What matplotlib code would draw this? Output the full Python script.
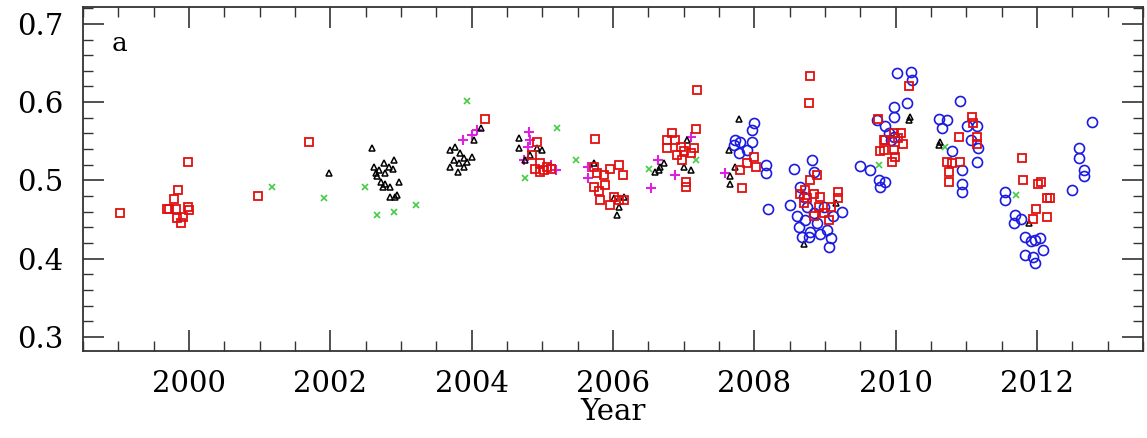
import matplotlib.pyplot as plt
from matplotlib.ticker import MultipleLocator

# ---------------------- DATA -------------------------------------------------

# red open squares
sq_x = [1999.03, 1999.69, 1999.71, 1999.84, 1999.79, 1999.99, 1999.98, 2000.00, 1999.83,
        1999.88, 1999.81, 1999.92, 2000.98, 2001.70, 2004.19,
        2004.93, 2004.96, 2004.90, 2005.02, 2005.07, 2005.12, 2004.97, 2004.86,
        2005.74, 2005.73, 2005.77, 2005.87, 2005.96, 2006.08, 2006.14, 2005.73, 2005.80,
        2005.89, 2005.82, 2005.96, 2006.08, 2006.15, 2006.01,
        2007.19, 2007.18, 2006.84, 2006.77, 2006.88, 2006.77, 2006.96, 2007.00, 2007.10,
        2006.91, 2007.03, 2007.03, 2007.14, 2006.98,
        2007.83, 2007.99, 2007.90, 2007.80, 2008.02,
        2008.79, 2008.78,
        2008.65, 2008.72, 2008.79, 2008.89, 2008.75, 2008.84, 2008.93, 2009.19, 2009.19,
        2009.08, 2008.98, 2008.84, 2009.05, 2008.70, 2008.91,
        2010.19, 2009.84, 2009.97, 2010.04, 2010.11, 2009.83, 2009.97, 2009.95, 2009.99,
        2009.75, 2009.78, 2009.85, 2010.07,
        2010.73, 2010.75, 2010.75, 2010.91, 2010.89, 2011.08, 2011.10, 2011.15, 2011.15, 2010.80,
        2011.79, 2011.80, 2012.02, 2012.05, 2012.14, 2012.19, 2011.98, 2011.95, 2012.14]
sq_y = [0.458, 0.463, 0.463, 0.488, 0.476, 0.523, 0.466, 0.462, 0.452,
        0.445, 0.463, 0.453, 0.480, 0.549, 0.578,
        0.549, 0.522, 0.515, 0.513, 0.517, 0.515, 0.511, 0.532,
        0.553, 0.517, 0.509, 0.507, 0.515, 0.520, 0.507, 0.492, 0.486,
        0.494, 0.475, 0.468, 0.475, 0.475, 0.479,
        0.615, 0.566, 0.560, 0.552, 0.552, 0.541, 0.543, 0.537, 0.535,
        0.532, 0.498, 0.492, 0.541, 0.526,
        0.490, 0.530, 0.522, 0.513, 0.517,
        0.633, 0.599,
        0.483, 0.488, 0.500, 0.507, 0.477, 0.483, 0.479, 0.485, 0.477,
        0.466, 0.458, 0.454, 0.449, 0.471, 0.466,
        0.620, 0.552, 0.560, 0.554, 0.547, 0.539, 0.539, 0.524, 0.530,
        0.579, 0.537, 0.552, 0.560,
        0.523, 0.511, 0.498, 0.523, 0.556, 0.581, 0.573, 0.556, 0.547, 0.522,
        0.529, 0.500, 0.496, 0.498, 0.477, 0.477, 0.463, 0.451, 0.453]

# black open triangles
tri_x = [2001.98, 2002.59,
         2002.62, 2002.69, 2002.76, 2002.83, 2002.90, 2002.88, 2002.66, 2002.71, 2002.78,
         2002.97, 2002.95, 2002.85, 2002.92, 2002.85, 2002.78, 2002.64, 2002.74,
         2003.70, 2003.77, 2003.84, 2003.75, 2003.82, 2003.89, 2003.94, 2004.01, 2003.70,
         2003.80, 2003.89, 2004.03, 2004.13,
         2004.67, 2004.67, 2004.76, 2004.83, 2004.93, 2005.00,
         2006.06, 2006.08, 2006.01, 2005.73, 2006.15,
         2006.67, 2006.65, 2006.72, 2006.60, 2007.00, 2007.05, 2007.10,
         2007.78, 2007.64, 2007.66, 2007.66, 2007.73,
         2008.70, 2009.15, 2010.19, 2010.20, 2010.61, 2010.63, 2011.88]
tri_y = [0.509, 0.542,
         0.517, 0.513, 0.522, 0.517, 0.526, 0.515, 0.505, 0.498, 0.496,
         0.498, 0.481, 0.492, 0.479, 0.479, 0.509, 0.509, 0.492,
         0.539, 0.543, 0.535, 0.526, 0.522, 0.528, 0.524, 0.530, 0.517,
         0.511, 0.517, 0.552, 0.567,
         0.554, 0.541, 0.526, 0.532, 0.541, 0.539,
         0.456, 0.466, 0.477, 0.522, 0.479,
         0.517, 0.513, 0.522, 0.511, 0.517, 0.552, 0.513,
         0.579, 0.539, 0.496, 0.505, 0.517,
         0.419, 0.471, 0.577, 0.581, 0.545, 0.549, 0.445]

# green crosses
crs_x = [2001.18, 2001.91, 2002.49, 2002.66, 2002.90, 2003.21,
         2003.94, 2005.21, 2004.76, 2005.47, 2006.51, 2007.17,
         2009.76, 2010.70, 2011.71]
crs_y = [0.491, 0.478, 0.491, 0.456, 0.459, 0.468,
         0.601, 0.567, 0.503, 0.526, 0.515, 0.526,
         0.520, 0.543, 0.481]

# magenta pluses
pls_x = [2003.87, 2004.01, 2004.08,
         2004.81, 2004.83, 2004.79, 2004.74, 2005.19, 2005.12,
         2005.64, 2005.64, 2006.54, 2006.63, 2006.88, 2007.10, 2007.59]
pls_y = [0.552, 0.558, 0.564,
         0.562, 0.552, 0.543, 0.526, 0.513, 0.520,
         0.517, 0.503, 0.490, 0.526, 0.507, 0.556, 0.509]

# blue open circles
cir_x = [2007.99, 2007.97, 2007.73, 2007.71, 2007.80, 2007.90, 2007.97, 2007.78,
         2008.17, 2008.17, 2008.20,
         2008.56, 2008.51, 2008.82, 2008.84, 2008.65, 2008.60, 2008.63, 2008.72, 2008.79,
         2008.89, 2008.93, 2009.03, 2009.08, 2009.05, 2008.75, 2008.70, 2009.24, 2008.98,
         2008.84, 2009.12, 2008.68, 2008.77,
         2009.50, 2009.64, 2009.76, 2009.78, 2009.85, 2009.74, 2009.85, 2009.90, 2009.97,
         2009.97, 2009.97, 2010.02, 2010.16, 2010.22, 2010.23, 2009.93,
         2010.61, 2010.66, 2010.73, 2010.91, 2010.80, 2010.94, 2010.94, 2010.94, 2011.01,
         2011.15, 2011.17, 2011.15, 2011.06,
         2011.55, 2011.55, 2011.69, 2011.67, 2011.78, 2011.83, 2011.97, 2012.04, 2012.08,
         2011.83, 2011.95, 2011.97, 2011.92,
         2012.49, 2012.59, 2012.59, 2012.66, 2012.66, 2012.78]
cir_y = [0.573, 0.564, 0.552, 0.545, 0.549, 0.539, 0.549, 0.535,
         0.520, 0.509, 0.464,
         0.515, 0.468, 0.526, 0.511, 0.492, 0.454, 0.441, 0.449, 0.434,
         0.445, 0.432, 0.436, 0.426, 0.415, 0.466, 0.479, 0.460, 0.466,
         0.458, 0.454, 0.428, 0.428,
         0.519, 0.513, 0.500, 0.492, 0.498, 0.577, 0.569, 0.560, 0.594,
         0.581, 0.556, 0.637, 0.599, 0.638, 0.628, 0.552,
         0.579, 0.567, 0.577, 0.601, 0.537, 0.513, 0.496, 0.485, 0.569,
         0.569, 0.541, 0.524, 0.552,
         0.485, 0.475, 0.456, 0.445, 0.451, 0.428, 0.424, 0.426, 0.411,
         0.405, 0.402, 0.394, 0.422,
         0.488, 0.541, 0.528, 0.513, 0.505, 0.575]

# ---------------------- PLOT ------------------------

plt.rcParams['font.family'] = 'DejaVu Serif'

fig = plt.figure(figsize=(11.47, 4.38), dpi=100)
ax = fig.add_axes([0.0724, 0.1986, 0.9241, 0.7844])

ax.plot(crs_x, crs_y, 'x', color='#44cc44', ms=5, mew=1.2, ls='none')
ax.plot(pls_x, pls_y, '+', color='#dd22dd', ms=7.5, mew=1.5, ls='none')
ax.plot(tri_x, tri_y, '^', color='black', mfc='none', ms=5, mew=1.1, ls='none')
ax.plot(cir_x, cir_y, 'o', color='#1a1ae0', mfc='none', ms=7.2, mew=1.2, ls='none')
ax.plot(sq_x, sq_y, 's', color='#e01010', mfc='none', ms=5.7, mew=1.3, ls='none')

ax.set_xlim(1998.5, 2013.5)
ax.set_ylim(0.282, 0.721)
ax.xaxis.set_major_locator(MultipleLocator(2))
ax.xaxis.set_minor_locator(MultipleLocator(0.5))
ax.yaxis.set_major_locator(MultipleLocator(0.1))
ax.yaxis.set_minor_locator(MultipleLocator(0.02))
ax.tick_params(which='both', direction='in', top=True, right=True, color='#333333')
ax.tick_params(which='major', length=15, width=1.2, labelsize=21)
ax.tick_params(which='minor', length=7, width=1.0)
ax.tick_params(axis='x', which='major', pad=14)
ax.tick_params(axis='y', which='major', pad=14)
ax.yaxis.set_major_formatter(plt.FuncFormatter(lambda v, p: f'{v:.1f}'))
for s in ax.spines.values():
    s.set_linewidth(1.3)
    s.set_color('#333333')

ax.set_xlabel('Year', fontsize=21, labelpad=0)
ax.text(0.027, 0.93, 'a', transform=ax.transAxes, fontsize=19, va='top', ha='left')

plt.savefig('out.png', dpi=100)
